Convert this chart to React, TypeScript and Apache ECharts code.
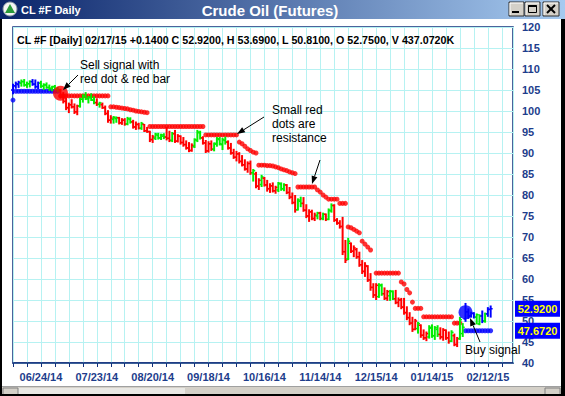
import React, { useEffect, useRef } from 'react';
import * as echarts from 'echarts';

// ---- data ----
const openP = [
  105.0, 106.0, 106.3, 106.6, 107.0, 106.2, 106.5, 107.0, 106.4, 105.8,
  106.6, 105.9, 106.2, 105.6, 105.4, 105.8, 105.2, 105.0, 103.5, 102.3,
  100.8, 101.5, 101.0, 99.8, 101.2, 102.8, 103.5, 102.9, 103.2, 102.6,
  102.0, 101.6, 101.5, 100.8, 99.4, 97.8, 98.0, 98.2, 98.4, 97.2,
  97.8, 96.9, 98.0, 97.4, 96.2, 96.8, 95.9, 96.8, 95.3, 95.1,
  93.2, 93.5, 94.2, 93.6, 94.0, 93.8, 93.5, 93.0, 94.6, 92.8,
  94.0, 92.5, 92.0, 91.2, 90.6, 91.5, 93.0, 94.8, 93.6, 92.4,
  90.5, 92.2, 90.9, 92.1, 93.2, 92.0, 93.0, 92.6, 91.2, 90.0,
  89.0, 89.8, 88.0, 87.2, 86.2, 87.5, 85.3, 85.0, 82.1, 82.5,
  84.0, 82.4, 81.5, 82.2, 81.0, 81.2, 82.6, 81.5, 82.4, 80.6,
  79.5, 78.2, 76.5, 78.5, 78.0, 76.4, 75.0, 76.0, 74.4, 75.0,
  75.7, 74.4, 75.4, 74.2, 76.2, 77.5, 74.0, 73.3, 72.5, 66.5,
  64.8, 68.5, 66.6, 67.0, 65.3, 63.4, 61.8, 63.0, 59.8, 58.0,
  56.2, 55.8, 58.4, 56.5, 55.4, 56.0, 57.0, 55.3, 54.4, 55.0,
  53.3, 52.0, 50.8, 49.5, 48.0, 48.2, 49.0, 46.6, 46.0, 46.2,
  48.3, 46.5, 48.0, 46.8, 46.2, 47.8, 46.0, 45.2, 46.5, 44.4,
  45.8, 47.0, 50.5, 52.2, 51.2, 51.8, 50.9, 49.3, 51.2, 50.0,
  51.7, 52.75,
];
const highP = [
  106.5, 107.0, 107.2, 107.5, 107.6, 107.0, 107.3, 107.6, 107.5, 107.0,
  107.2, 106.6, 106.8, 106.3, 106.0, 106.2, 105.7, 105.3, 104.5, 103.2,
  102.0, 102.8, 101.8, 101.5, 103.2, 104.0, 104.5, 103.6, 104.2, 103.5,
  103.0, 102.2, 102.0, 101.3, 100.2, 99.0, 98.8, 98.7, 98.6, 98.3,
  98.3, 98.6, 98.5, 97.9, 97.5, 97.2, 97.4, 96.9, 96.2, 95.3,
  94.3, 94.8, 94.8, 94.6, 94.7, 96.2, 95.3, 95.0, 95.5, 94.5,
  94.2, 93.8, 93.0, 92.6, 92.3, 93.5, 95.5, 95.3, 94.0, 93.1,
  92.8, 93.0, 92.5, 93.8, 93.8, 93.6, 93.9, 93.0, 92.4, 91.0,
  90.5, 90.2, 89.5, 88.5, 88.0, 88.2, 86.2, 85.5, 84.0, 84.8,
  84.3, 83.6, 82.8, 83.0, 82.2, 83.1, 83.0, 82.8, 82.6, 81.9,
  80.6, 80.0, 79.2, 79.6, 79.5, 77.8, 76.6, 76.5, 75.8, 76.0,
  76.0, 75.8, 75.6, 76.8, 78.0, 77.8, 74.5, 74.0, 74.8, 69.3,
  69.8, 68.7, 68.0, 67.4, 66.5, 64.5, 64.0, 63.3, 61.4, 59.0,
  59.0, 59.0, 58.9, 58.0, 57.4, 57.4, 57.3, 57.4, 55.6, 55.5,
  55.5, 53.5, 52.1, 51.0, 50.5, 49.8, 49.2, 48.0, 47.5, 49.0,
  49.2, 48.8, 49.0, 48.5, 48.3, 48.0, 47.5, 47.8, 47.0, 46.2,
  51.0, 49.5, 54.3, 53.0, 52.2, 52.1, 51.8, 51.6, 52.5, 52.0,
  53.3, 53.69,
];
const lowP = [
  104.0, 105.3, 105.5, 105.8, 105.8, 105.5, 105.6, 106.0, 105.3, 105.2,
  105.5, 105.0, 105.3, 104.8, 104.7, 104.9, 104.5, 103.0, 101.8, 100.2,
  99.5, 100.6, 99.3, 99.0, 100.8, 102.0, 102.6, 101.8, 102.4, 101.6,
  101.2, 100.8, 100.5, 99.0, 97.2, 97.0, 97.0, 97.2, 96.8, 96.7,
  96.5, 96.6, 97.0, 95.8, 95.5, 95.6, 95.5, 95.0, 94.8, 92.6,
  92.4, 93.1, 93.2, 93.1, 93.3, 93.0, 92.6, 92.6, 92.4, 92.5,
  92.0, 91.5, 90.8, 90.2, 90.3, 91.2, 92.6, 93.2, 92.0, 90.0,
  90.1, 90.5, 90.4, 91.5, 91.8, 90.7, 92.0, 90.8, 89.6, 88.6,
  88.0, 87.5, 86.8, 85.8, 85.3, 84.8, 83.2, 81.6, 81.2, 81.9,
  82.0, 80.8, 80.5, 80.6, 80.3, 80.7, 81.0, 80.9, 80.2, 79.0,
  77.8, 75.8, 76.3, 77.1, 76.0, 74.5, 73.6, 74.0, 73.8, 74.2,
  74.0, 74.0, 73.8, 74.0, 75.8, 73.6, 72.9, 72.0, 65.7, 63.8,
  64.5, 66.2, 65.2, 64.8, 62.9, 61.2, 60.5, 59.3, 57.2, 55.5,
  55.0, 55.5, 56.0, 55.0, 54.8, 54.8, 55.0, 54.0, 53.3, 52.8,
  51.5, 50.2, 49.0, 47.4, 47.8, 47.0, 46.0, 45.5, 45.2, 45.8,
  46.0, 45.5, 46.2, 45.6, 45.3, 45.5, 44.6, 45.0, 44.0, 43.8,
  45.5, 46.2, 49.8, 50.5, 50.8, 50.6, 49.2, 49.0, 49.5, 49.6,
  51.0, 50.81,
];
const closeP = [
  106.0, 106.5, 106.8, 107.0, 106.2, 106.5, 107.0, 106.4, 105.8, 106.6,
  105.9, 106.2, 105.6, 105.4, 105.8, 105.2, 104.9, 103.5, 102.3, 100.8,
  101.5, 101.0, 99.8, 101.2, 102.8, 103.5, 102.9, 103.2, 102.6, 102.0,
  101.6, 101.9, 100.8, 99.4, 97.8, 98.3, 98.5, 98.4, 97.2, 97.8,
  96.9, 98.2, 97.4, 96.2, 96.8, 95.9, 97.0, 95.3, 95.1, 93.2,
  93.8, 94.5, 93.6, 94.3, 93.8, 93.5, 93.0, 94.6, 92.8, 94.0,
  92.5, 92.0, 91.2, 90.6, 91.8, 93.2, 95.0, 93.6, 92.4, 90.5,
  92.2, 90.9, 92.3, 93.4, 92.2, 93.2, 92.6, 91.2, 90.0, 89.0,
  89.8, 88.0, 87.2, 86.2, 87.5, 85.3, 85.8, 82.1, 83.5, 84.3,
  82.4, 81.5, 82.2, 81.0, 81.8, 82.8, 81.5, 82.4, 80.6, 79.5,
  78.2, 76.5, 78.8, 78.0, 76.4, 75.0, 76.0, 74.4, 75.2, 75.7,
  74.4, 75.4, 74.2, 76.4, 77.5, 74.0, 73.3, 72.5, 66.5, 64.5,
  69.0, 66.6, 67.4, 65.3, 63.4, 61.8, 63.2, 59.8, 58.0, 56.2,
  58.5, 58.6, 56.5, 55.4, 57.0, 57.1, 55.3, 54.4, 55.0, 53.3,
  52.0, 50.8, 49.5, 48.0, 50.0, 49.4, 46.6, 46.0, 47.0, 48.5,
  46.5, 48.4, 46.8, 46.2, 47.8, 46.0, 45.2, 47.3, 44.4, 45.8,
  50.3, 48.5, 52.2, 51.2, 51.8, 50.9, 51.5, 51.2, 50.0, 51.7,
  52.78, 52.92,
];
// bar colour per day: b = blue (buy mode), g = green, r = red (sell mode)
const barTone = [
  'bbb', 'gggg', 'bbb', 'ggggggg',
  'rrrrrrr', 'gggggg', 'r', 'g', 'rrrr', 'gg', 'rrr', 'gg', 'rrr', 'g', 'rrrr',
  'gggg', 'rr', 'g', 'rrrrrrr', 'ggg', 'rrrr', 'ggggg', 'rrrrrrrrr', 'g', 'rr', 'g',
  'rrrrr', 'ggg', 'rrrr', 'gg', 'rrrrr', 'g', 'r', 'g', 'r', 'gg', 'rrrrr', 'g',
  'rrrrrrrrrr', 'gg', 'rr', 'gg', 'rrrrrrrr', 'g', 'rrr', 'gggg', 'rrrr', 'g', 'rr', 'gg',
  'bbbb', 'gg', 'b', 'g', 'bb',
].join('').split('');

// small red dots (resistance), null where none
const rep = (v: number, n: number) => Array(n).fill(v);
const resistance: (number | null)[] = [
  ...rep(null as any, 17),
  ...rep(103.6, 18),
  101.0, 101.0, 100.9, 100.8, 100.7, 100.6, 100.5, 100.3, 100.2, 100.0, 99.9, 99.8, 99.7, 99.6,
  ...rep(96.3, 20),
  ...rep(94.3, 12),
  92.6, 92.2, 91.6, 91.0, 90.6, 90.2, 90.0,
  87.1, 87.1, 87.1, 87.0, 87.0, 86.9, 86.7, 86.5, 86.2, 86.0, 85.8, 85.5, 85.3, 85.1,
  ...rep(81.9, 7),
  81.2, 80.7, 80.0, 79.5,
  ...rep(79.0, 4),
  ...rep(78.0, 3),
  72.4, 72.2, 71.8, 71.4, 71.0,
  69.0, 68.3, 67.6, 66.9,
  null,
  ...rep(61.4, 9),
  59.3, 58.8, 57.5, 56.7,
  54.5,
  ...rep(53.0, 3),
  ...rep(51.0, 11),
  49.5, 49.5, 49.5, null,
  ...rep(null as any, 10),
];
// blue dots (support), null where none
const support: (number | null)[] = [
  102.6,
  ...rep(104.7, 16),
  ...rep(null as any, 145),
  ...rep(47.672, 10),
];
const sellSignal = [[17, 104.2]];
const buySignal = [[162, 52.1]];

const yMin = 40;
const yMax = 120;
const yStep = 5;
const xLabels = ['06/24/14', '07/23/14', '08/20/14', '09/18/14', '10/16/14', '11/14/14', '12/15/14', '01/14/15', '02/12/15'];
const xLabelFirst = 10;
const xLabelStep = 20;
const lastDate = '02/17/15';
const lastVolume = '437.0720K';

const FONT = '"Liberation Sans", Arial, Helvetica, sans-serif';
const NAVY = '#1d3d8c';
const GRIDC = '#b6f2f2';
const toneColor: Record<string, string> = { r: '#ff0000', g: '#00ee00', b: '#0000ff' };

function arrow(x1: number, y1: number, x2: number, y2: number) {
  const ang = Math.atan2(y2 - y1, x2 - x1);
  const L = 8, W = 3;
  const bx = x2 - L * Math.cos(ang), by = y2 - L * Math.sin(ang);
  const px = -Math.sin(ang) * W, py = Math.cos(ang) * W;
  return [
    { type: 'line', z: 120, shape: { x1, y1, x2: bx, y2: by }, style: { stroke: '#000', lineWidth: 1 } },
    { type: 'polygon', z: 120, shape: { points: [[x2, y2], [bx + px, by + py], [bx - px, by - py]] }, style: { fill: '#000' } },
  ];
}

export default function App() {
  const ref = useRef<HTMLDivElement>(null);
  useEffect(() => {
    if (!ref.current) return;
    const chart = echarts.init(ref.current, undefined, { renderer: 'svg' });
    const n = closeP.length;
    const ohlc = openP.map((o, i) => [i, o, highP[i], lowP[i], closeP[i]]);
    const resData = resistance.map((v, i) => [i, v]).filter((d) => d[1] != null);
    const supData = support.map((v, i) => [i, v]).filter((d) => d[1] != null);

    chart.setOption({
      animation: false,
      grid: {
        left: 13, right: 52, top: 27, bottom: 33,
        show: true, borderColor: '#12307c', borderWidth: 1.5, backgroundColor: '#ffffff',
      },
      xAxis: {
        type: 'value', min: 0, max: 179, interval: 5,
        axisLine: { show: true, lineStyle: { color: '#12307c', width: 1.5 } },
        axisTick: { show: true, length: 4, lineStyle: { color: '#12307c' } },
        axisLabel: {
          margin: 8, color: NAVY, fontWeight: 'bold', fontSize: 11, fontFamily: FONT,
          showMaxLabel: false,
          formatter: (v: number) => {
            const k = (v - xLabelFirst) / xLabelStep;
            return Number.isInteger(k) && k >= 0 && k < xLabels.length ? xLabels[k] : '';
          },
        },
        splitLine: { show: true, lineStyle: { color: GRIDC, width: 1 } },
      },
      yAxis: {
        type: 'value', position: 'right', min: yMin, max: yMax, interval: yStep,
        axisLine: { show: false }, axisTick: { show: false },
        axisLabel: { margin: 9, color: NAVY, fontWeight: 'bold', fontSize: 11, fontFamily: FONT },
        splitLine: { show: true, lineStyle: { color: GRIDC, width: 1 } },
      },
      series: [
        {
          type: 'scatter', data: resData, symbol: 'circle', symbolSize: 5,
          itemStyle: { color: '#ff0000' }, z: 3, silent: true,
        },
        {
          type: 'scatter', data: supData, symbol: 'circle', symbolSize: 5,
          itemStyle: { color: '#0000ff' }, z: 3, silent: true,
        },
        {
          type: 'custom', data: ohlc, encode: { x: 0, y: [1, 2, 3, 4] }, z: 4, silent: true,
          renderItem: (params: any, api: any) => {
            const i = api.value(0);
            const o = api.coord([i, api.value(1)]);
            const h = api.coord([i, api.value(2)]);
            const l = api.coord([i, api.value(3)]);
            const c = api.coord([i, api.value(4)]);
            const color = toneColor[barTone[params.dataIndex]] || '#ff0000';
            const x = h[0];
            return {
              type: 'group',
              children: [
                { type: 'line', shape: { x1: x, y1: h[1], x2: x, y2: l[1] }, style: { stroke: color, lineWidth: 2 } },
                { type: 'line', shape: { x1: x - 2, y1: o[1], x2: x, y2: o[1] }, style: { stroke: color, lineWidth: 1.5 } },
                { type: 'line', shape: { x1: x, y1: c[1], x2: x + 2, y2: c[1] }, style: { stroke: color, lineWidth: 1.5 } },
              ],
            };
          },
        },
        {
          type: 'scatter', data: sellSignal, symbol: 'circle', symbolSize: 15,
          itemStyle: { color: '#ff0000' }, z: 6, silent: true,
        },
        {
          type: 'scatter', data: buySignal, symbol: 'circle', symbolSize: 14,
          itemStyle: { color: '#0000ff' }, z: 6, silent: true,
        },
      ],
    });

    const lastClose = closeP[n - 1];
    const chg = closeP[n - 1] - closeP[n - 2];
    const lastSupport = support[n - 1] as number;
    const yClose = chart.convertToPixel({ yAxisIndex: 0 }, lastClose) as number;
    const ySup = chart.convertToPixel({ yAxisIndex: 0 }, lastSupport) as number;
    const header = `CL #F [Daily] ${lastDate} ${chg >= 0 ? '+' : ''}${chg.toFixed(4)} C ${lastClose.toFixed(4)}, H ${highP[n - 1].toFixed(4)}, L ${lowP[n - 1].toFixed(4)}, O ${openP[n - 1].toFixed(4)}, V ${lastVolume}`;

    const priceBox = (y: number, txt: string) => [
      { type: 'rect', z: 110, shape: { x: 515, y: y - 8, width: 45, height: 16 }, style: { fill: '#0000ff' } },
      {
        type: 'text', z: 111, x: 537.5, y,
        style: { text: txt, fill: '#ffff00', font: `bold 11px ${FONT}`, align: 'center', verticalAlign: 'middle' },
      },
    ];

    const btn = (x: number, w: number) => [
      { type: 'rect', z: 130, shape: { x, y: 2, width: w, height: 14 }, style: { fill: '#d4d0c8', stroke: '#303030', lineWidth: 1 } },
      { type: 'line', z: 131, shape: { x1: x + 1, y1: 3, x2: x + w - 1, y2: 3 }, style: { stroke: '#ffffff', lineWidth: 1 } },
      { type: 'line', z: 131, shape: { x1: x + 1, y1: 3, x2: x + 1, y2: 15 }, style: { stroke: '#ffffff', lineWidth: 1 } },
    ];

    chart.setOption({
      graphic: [
        // title bar
        {
          type: 'rect', z: 100, shape: { x: 0, y: 0, width: 565, height: 19 },
          style: { fill: new echarts.graphic.LinearGradient(0, 0, 1, 0, [{ offset: 0, color: '#0a246a' }, { offset: 1, color: '#a6caf0' }]) },
        },
        { type: 'circle', z: 101, shape: { cx: 10, cy: 9, r: 7 }, style: { fill: '#f4f4f4', stroke: '#8090a0', lineWidth: 1 } },
        { type: 'polygon', z: 102, shape: { points: [[10, 4], [15, 13], [5, 13]] }, style: { fill: '#2a9a3a' } },
        { type: 'text', z: 102, x: 21, y: 10, style: { text: 'CL #F Daily', fill: '#ffffff', font: `bold 11px ${FONT}`, verticalAlign: 'middle' } },
        { type: 'text', z: 102, x: 270, y: 10, style: { text: 'Crude Oil (Futures)', fill: '#ffffff', font: `bold 15px ${FONT}`, align: 'center', verticalAlign: 'middle' } },
        ...btn(509, 15), ...btn(525, 15), ...btn(543, 16),
        { type: 'rect', z: 132, shape: { x: 512, y: 11, width: 7, height: 2 }, style: { fill: '#000' } },
        { type: 'rect', z: 132, shape: { x: 528.5, y: 5.5, width: 8, height: 7 }, style: { fill: 'none', stroke: '#000', lineWidth: 1 } },
        { type: 'rect', z: 132, shape: { x: 528.5, y: 5, width: 8, height: 2 }, style: { fill: '#000' } },
        { type: 'line', z: 132, shape: { x1: 547, y1: 5, x2: 555, y2: 13 }, style: { stroke: '#000', lineWidth: 2 } },
        { type: 'line', z: 132, shape: { x1: 555, y1: 5, x2: 547, y2: 13 }, style: { stroke: '#000', lineWidth: 2 } },
        // window frame & scrollbar
        { type: 'rect', z: 100, shape: { x: 0, y: 387, width: 565, height: 9 }, style: { fill: '#d4d0c8' } },
        { type: 'rect', z: 101, shape: { x: 18, y: 388, width: 167, height: 8 }, style: { fill: '#e9e8e4' } },
        { type: 'rect', z: 101, shape: { x: 3, y: 388, width: 15, height: 8 }, style: { fill: '#d4d0c8', stroke: '#808080', lineWidth: 1 } },
        { type: 'rect', z: 101, shape: { x: 545, y: 388, width: 15, height: 8 }, style: { fill: '#d4d0c8', stroke: '#808080', lineWidth: 1 } },
        { type: 'line', z: 101, shape: { x1: 0, y1: 386.5, x2: 565, y2: 386.5 }, style: { stroke: '#a0a0a0', lineWidth: 1 } },
        { type: 'rect', z: 105, shape: { x: 0, y: 19, width: 2, height: 377 }, style: { fill: '#000' } },
        { type: 'rect', z: 105, shape: { x: 561, y: 19, width: 4, height: 377 }, style: { fill: '#000' } },
        { type: 'rect', z: 105, shape: { x: 0, y: 394, width: 565, height: 2 }, style: { fill: '#000' } },
        // header line
        { type: 'text', z: 110, x: 17, y: 40, style: { text: header, fill: '#000', font: `bold 10.7px ${FONT}`, verticalAlign: 'middle' } },
        // annotations
        { type: 'text', z: 120, x: 80, y: 58, style: { text: 'Sell signal with\nred dot & red bar', fill: '#000', font: `12px ${FONT}`, lineHeight: 14 } },
        ...arrow(78, 75, 63, 90),
        { type: 'text', z: 120, x: 272, y: 103, style: { text: 'Small red\ndots are\nresistance', fill: '#000', font: `12px ${FONT}`, lineHeight: 14 } },
        ...arrow(264, 117, 237, 134),
        ...arrow(320, 160, 312, 184),
        { type: 'text', z: 120, x: 465, y: 350, style: { text: 'Buy signal', fill: '#000', font: `12px ${FONT}`, verticalAlign: 'middle' } },
        ...arrow(480, 342, 470, 318),
        // price boxes
        ...priceBox(yClose, lastClose.toFixed(4)),
        ...priceBox(ySup, lastSupport.toFixed(4)),
      ],
    });
    return () => chart.dispose();
  }, []);
  return <div ref={ref} style={{ position: 'fixed', left: 0, top: 0, width: 565, height: 396, background: '#fff' }} />;
}
